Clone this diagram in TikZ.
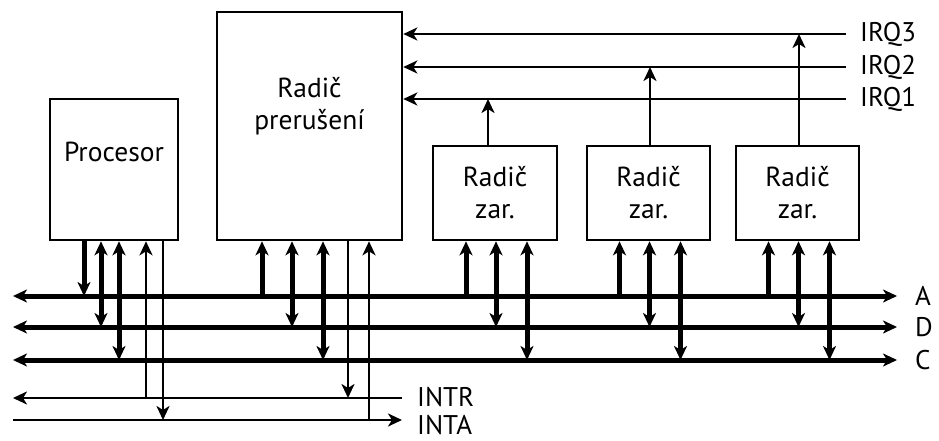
\documentclass[tikz,border=0pt]{standalone}
\usepackage{fontspec}
\setmainfont{PT Sans}
\usetikzlibrary{arrows.meta}
\begin{document}
\begin{tikzpicture}[x=1pt,y=-1pt,
  box/.style={draw,line width=2.6pt,inner sep=0pt,align=center,font=\fontsize{27.5}{32}\selectfont},
  tk/.style={line width=5pt},
  tn/.style={line width=2.6pt},
  lbl/.style={anchor=west,inner sep=0pt,font=\fontsize{27}{30}\selectfont},
  >={Stealth[length=14pt,width=13pt,inset=4pt]}]
\useasboundingbox (0,0) rectangle (939,441);

% boxes
\node[box,minimum width=128pt,minimum height=141pt] (proc) at (114,169.5) {Procesor\\[4pt]};
\node[box,minimum width=185pt,minimum height=228pt] (pic) at (309.5,126) {Radič\\prerušení\\[14pt]};
\node[box,minimum width=124pt,minimum height=94pt] (z1) at (495,193) {Radič\\zar.};
\node[box,minimum width=123pt,minimum height=94pt] (z2) at (648.5,193) {Radič\\zar.};
\node[box,minimum width=123pt,minimum height=94pt] (z3) at (797.5,193) {Radič\\zar.};

% bus end points
\coordinate (AL) at (13,296); \coordinate (AR) at (897,296);
\coordinate (DL) at (13,327); \coordinate (DR) at (897,327);
\coordinate (CL) at (13,360); \coordinate (CR) at (897,360);
\coordinate (IL) at (13,398); \coordinate (IR) at (402,398);
\coordinate (TL) at (13,420); \coordinate (TR) at (402,420);
\coordinate (Q3) at (846,34); \coordinate (Q2) at (846,67); \coordinate (Q1) at (846,99);

% buses
\draw[tk,<->] (AL) -- (AR);
\draw[tk,<->] (DL) -- (DR);
\draw[tk,<->] (CL) -- (CR);
\draw[tn,<-] (IL) -- (IR);
\draw[tn,->] (TL) -- (TR);
\node[lbl] at (915,296) {A};
\node[lbl] at (915,327) {D};
\node[lbl] at (915,360) {C};
\node[lbl] at (417,397) {INTR};
\node[lbl] at (417,425) {INTA};

% IRQ lines
\draw[tn,->] (Q3) -- (Q3 -| pic.east);
\draw[tn,->] (Q2) -- (Q2 -| pic.east);
\draw[tn,->] (Q1) -- (Q1 -| pic.east);
\node[lbl] at (860,34) {IRQ3};
\node[lbl] at (860,67) {IRQ2};
\node[lbl] at (860,99) {IRQ1};
\draw[tn,->] ([xshift=-7pt]z1.north) -- ([xshift=-7pt]z1.north |- Q1);
\draw[tn,->] ([xshift=1.5pt]z2.north) -- ([xshift=1.5pt]z2.north |- Q2);
\draw[tn,->] ([xshift=1.5pt]z3.north) -- ([xshift=1.5pt]z3.north |- Q3);

% processor connections
\draw[tk,->] ([xshift=-30pt]proc.south) -- ([xshift=-30pt]proc.south |- AL);
\draw[tk,<->] ([xshift=-13pt]proc.south) -- ([xshift=-13pt]proc.south |- DL);
\draw[tk,<->] ([xshift=5pt]proc.south) -- ([xshift=5pt]proc.south |- CL);
\draw[tn,<-] ([xshift=32pt]proc.south) -- ([xshift=32pt]proc.south |- IL);
\draw[tn,->] ([xshift=49pt]proc.south) -- ([xshift=49pt]proc.south |- TL);

% interrupt controller connections
\draw[tk,<-] ([xshift=-47.5pt]pic.south) -- ([xshift=-47.5pt]pic.south |- AL);
\draw[tk,<->] ([xshift=-17.5pt]pic.south) -- ([xshift=-17.5pt]pic.south |- DL);
\draw[tk,<->] ([xshift=13.5pt]pic.south) -- ([xshift=13.5pt]pic.south |- CL);
\draw[tn,->] ([xshift=38.5pt]pic.south) -- ([xshift=38.5pt]pic.south |- IL);
\draw[tn,<-] ([xshift=59.5pt]pic.south) -- ([xshift=59.5pt]pic.south |- TL);

% device controllers
\foreach \z in {z1,z2,z3}{
  \draw[tk,<-] ([xshift=-29pt]\z.south) -- ([xshift=-29pt]\z.south |- AL);
  \draw[tk,<->] ([xshift=1pt]\z.south) -- ([xshift=1pt]\z.south |- DL);
  \draw[tk,<->] ([xshift=32pt]\z.south) -- ([xshift=32pt]\z.south |- CL);
}
\end{tikzpicture}
\end{document}
